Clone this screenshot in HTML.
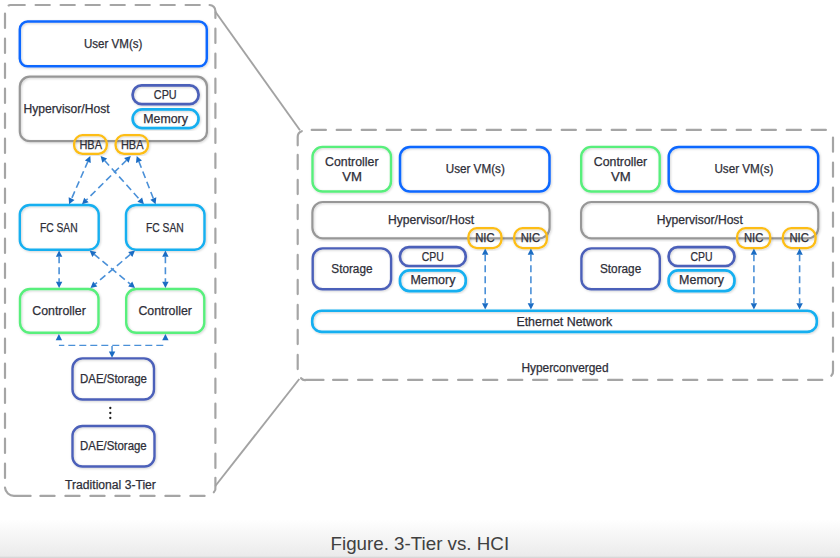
<!DOCTYPE html>
<html><head><meta charset="utf-8"><style>
html,body{margin:0;padding:0;}
body{width:840px;height:558px;overflow:hidden;position:relative;background:linear-gradient(to bottom,#ffffff 0px,#ffffff 519px,#ebebeb 556px,#d2d2d2 558px);}
svg{position:absolute;left:0;top:0;}
text{font-family:"Liberation Sans",sans-serif;fill:#2e2e38;stroke:#2e2e38;stroke-width:0.25px;}
</style></head><body>
<svg width="840" height="558" viewBox="0 0 840 558">
<defs><filter id="sh" x="-10%" y="-10%" width="120%" height="120%"><feDropShadow dx="0.8" dy="0.9" stdDeviation="0.9" flood-color="#000" flood-opacity="0.18"/></filter></defs>
<path d="M9.7,5 L201,5" fill="none" stroke="#a5a5a5" stroke-width="2.2" stroke-dasharray="14.2 10.8" stroke-dashoffset="-0.9" stroke-linecap="round"/>
<path d="M215.4,27.8 L215.4,468.8" fill="none" stroke="#a5a5a5" stroke-width="2.2" stroke-dasharray="14.2 10.8" stroke-dashoffset="-0.9" stroke-linecap="round"/>
<path d="M205.5,495.9 L39.5,495.9" fill="none" stroke="#a5a5a5" stroke-width="2.2" stroke-dasharray="14.2 10.8" stroke-dashoffset="-0.9" stroke-linecap="round"/>
<path d="M5,478.8 L5,12.8" fill="none" stroke="#a5a5a5" stroke-width="2.2" stroke-dasharray="14.2 10.8" stroke-dashoffset="-0.9" stroke-linecap="round"/>
<path d="M209.6,5 A6,6 0 0 1 215.4,11 L215.4,17.9" fill="none" stroke="#a5a5a5" stroke-width="2.2" stroke-linecap="round"/>
<path d="M215.4,477.8 L215.4,487 A6,6 0 0 1 213.8,492.3" fill="none" stroke="#a5a5a5" stroke-width="2.2" stroke-linecap="round"/>
<path d="M5,487.7 A9,9 0 0 0 14,495.9 L30.6,495.9" fill="none" stroke="#a5a5a5" stroke-width="2.2" stroke-linecap="round"/>
<path d="M10.2,5 A5,5 0 0 0 8.6,5.4" fill="none" stroke="#a5a5a5" stroke-width="2.2" stroke-linecap="round"/>
<path d="M310.8,129.9 L826.8,129.9" fill="none" stroke="#a5a5a5" stroke-width="2.2" stroke-dasharray="14.2 10.8" stroke-dashoffset="-0.9" stroke-linecap="round"/>
<path d="M833,136.6 L833,352.6" fill="none" stroke="#a5a5a5" stroke-width="2.2" stroke-dasharray="14.2 10.8" stroke-dashoffset="-0.9" stroke-linecap="round"/>
<path d="M823.2,379.9 L332.2,379.9" fill="none" stroke="#a5a5a5" stroke-width="2.2" stroke-dasharray="14.2 10.8" stroke-dashoffset="-0.9" stroke-linecap="round"/>
<path d="M297.7,370 L297.7,154" fill="none" stroke="#a5a5a5" stroke-width="2.2" stroke-dasharray="14.2 10.8" stroke-dashoffset="-0.9" stroke-linecap="round"/>
<path d="M301.8,131.2 A6,6 0 0 0 297.7,137 L297.7,145.3" fill="none" stroke="#a5a5a5" stroke-width="2.2" stroke-linecap="round"/>
<path d="M833,361.5 L833,371 A6,6 0 0 1 831.3,375.8" fill="none" stroke="#a5a5a5" stroke-width="2.2" stroke-linecap="round"/>
<path d="M301.1,378.2 A5,5 0 0 0 306,379.9 L323.5,379.9" fill="none" stroke="#a5a5a5" stroke-width="2.2" stroke-linecap="round"/>
<line x1="215.2" y1="11.5" x2="300" y2="130.2" stroke="#a3a3a3" stroke-width="1.9"/>
<line x1="215.3" y1="486" x2="299.3" y2="379" stroke="#a3a3a3" stroke-width="1.9"/>
<rect x="19.80" y="21.60" width="187.00" height="44.70" rx="7.8" fill="none" stroke="#1068ff" stroke-width="2.5" filter="url(#sh)"/>
<text x="113.15" y="48.00" font-size="12" text-anchor="middle" textLength="58.5" lengthAdjust="spacingAndGlyphs">User VM(s)</text>
<rect x="19.80" y="76.70" width="187.20" height="64.50" rx="10" fill="none" stroke="#979797" stroke-width="2.2" filter="url(#sh)"/>
<text x="66.60" y="113.00" font-size="12" text-anchor="middle" textLength="86.0" lengthAdjust="spacingAndGlyphs">Hypervisor/Host</text>
<rect x="132.65" y="85.35" width="65.90" height="18.80" rx="9" fill="none" stroke="#4c60b9" stroke-width="2.7" filter="url(#sh)"/>
<text x="165.25" y="99.00" font-size="12" text-anchor="middle" textLength="22.9" lengthAdjust="spacingAndGlyphs">CPU</text>
<rect x="132.65" y="109.35" width="65.90" height="18.80" rx="9.5" fill="none" stroke="#14aff0" stroke-width="2.7" filter="url(#sh)"/>
<text x="165.60" y="123.00" font-size="12" text-anchor="middle" textLength="44.6" lengthAdjust="spacingAndGlyphs">Memory</text>
<rect x="74.10" y="135.20" width="32.70" height="18.70" rx="8.5" fill="none" stroke="#fdbd12" stroke-width="2.3" filter="url(#sh)"/>
<text x="90.70" y="149.00" font-size="12" text-anchor="middle" textLength="22.6" lengthAdjust="spacingAndGlyphs">HBA</text>
<rect x="115.60" y="135.20" width="32.40" height="18.70" rx="8.5" fill="none" stroke="#fdbd12" stroke-width="2.3" filter="url(#sh)"/>
<text x="132.20" y="149.00" font-size="12" text-anchor="middle" textLength="22.6" lengthAdjust="spacingAndGlyphs">HBA</text>
<rect x="19.80" y="205.00" width="78.90" height="44.70" rx="10" fill="none" stroke="#14aff0" stroke-width="2.4" filter="url(#sh)"/>
<text x="58.80" y="232.00" font-size="12" text-anchor="middle" textLength="37.8" lengthAdjust="spacingAndGlyphs">FC SAN</text>
<rect x="126.00" y="205.00" width="78.50" height="44.70" rx="10" fill="none" stroke="#14aff0" stroke-width="2.4" filter="url(#sh)"/>
<text x="164.90" y="232.00" font-size="12" text-anchor="middle" textLength="37.8" lengthAdjust="spacingAndGlyphs">FC SAN</text>
<rect x="20.00" y="289.00" width="78.50" height="43.80" rx="10" fill="none" stroke="#58ef7c" stroke-width="2.4" filter="url(#sh)"/>
<text x="59.05" y="315.00" font-size="12" text-anchor="middle" textLength="53.5" lengthAdjust="spacingAndGlyphs">Controller</text>
<rect x="126.20" y="289.00" width="78.10" height="43.80" rx="10" fill="none" stroke="#58ef7c" stroke-width="2.4" filter="url(#sh)"/>
<text x="165.15" y="315.00" font-size="12" text-anchor="middle" textLength="53.5" lengthAdjust="spacingAndGlyphs">Controller</text>
<rect x="72.50" y="358.40" width="81.50" height="41.10" rx="10" fill="none" stroke="#4c60b9" stroke-width="2.4" filter="url(#sh)"/>
<text x="113.50" y="383.00" font-size="12" text-anchor="middle" textLength="66.8" lengthAdjust="spacingAndGlyphs">DAE/Storage</text>
<rect x="72.50" y="426.00" width="82.00" height="40.50" rx="10" fill="none" stroke="#4c60b9" stroke-width="2.4" filter="url(#sh)"/>
<text x="113.40" y="450.00" font-size="12" text-anchor="middle" textLength="66.6" lengthAdjust="spacingAndGlyphs">DAE/Storage</text>
<circle cx="110.3" cy="408" r="1.15" fill="#1e1e1e"/>
<circle cx="110.3" cy="413" r="1.15" fill="#1e1e1e"/>
<circle cx="110.3" cy="418" r="1.15" fill="#1e1e1e"/>
<text x="110.50" y="489.00" font-size="12" text-anchor="middle" textLength="90.8" lengthAdjust="spacingAndGlyphs">Traditional 3-Tier</text>
<polygon points="90.30,156.00 90.74,162.96 84.88,160.39" fill="#1b6cc3"/>
<polygon points="69.10,204.30 68.66,197.34 74.52,199.91" fill="#1b6cc3"/>
<line x1="88.01" y1="161.22" x2="71.39" y2="199.08" stroke="#4a90d8" stroke-width="1.6" stroke-dasharray="7 4"/>
<polygon points="130.80,156.00 128.64,162.64 124.14,158.09" fill="#1b6cc3"/>
<polygon points="82.00,204.30 84.16,197.66 88.66,202.21" fill="#1b6cc3"/>
<line x1="126.75" y1="160.01" x2="86.05" y2="200.29" stroke="#4a90d8" stroke-width="1.6" stroke-dasharray="7 4"/>
<polygon points="100.60,156.00 107.12,158.48 102.36,162.75" fill="#1b6cc3"/>
<polygon points="143.90,204.30 137.38,201.82 142.14,197.55" fill="#1b6cc3"/>
<line x1="104.40" y1="160.24" x2="140.10" y2="200.06" stroke="#4a90d8" stroke-width="1.6" stroke-dasharray="7 4"/>
<polygon points="136.70,156.00 141.94,160.61 135.98,162.94" fill="#1b6cc3"/>
<polygon points="155.60,204.30 150.36,199.69 156.32,197.36" fill="#1b6cc3"/>
<line x1="138.78" y1="161.31" x2="153.52" y2="198.99" stroke="#4a90d8" stroke-width="1.6" stroke-dasharray="7 4"/>
<polygon points="59.10,250.50 62.30,256.70 55.90,256.70" fill="#1b6cc3"/>
<polygon points="59.10,288.00 55.90,281.80 62.30,281.80" fill="#1b6cc3"/>
<line x1="59.10" y1="256.20" x2="59.10" y2="282.30" stroke="#4a90d8" stroke-width="1.6" stroke-dasharray="7 4"/>
<polygon points="165.40,250.50 168.60,256.70 162.20,256.70" fill="#1b6cc3"/>
<polygon points="165.40,288.00 162.20,281.80 168.60,281.80" fill="#1b6cc3"/>
<line x1="165.40" y1="256.20" x2="165.40" y2="282.30" stroke="#4a90d8" stroke-width="1.6" stroke-dasharray="7 4"/>
<polygon points="89.60,250.50 96.42,251.98 92.34,256.92" fill="#1b6cc3"/>
<polygon points="135.00,288.00 128.18,286.52 132.26,281.58" fill="#1b6cc3"/>
<line x1="93.99" y1="254.13" x2="130.61" y2="284.37" stroke="#4a90d8" stroke-width="1.6" stroke-dasharray="7 4"/>
<polygon points="135.00,250.50 132.32,256.94 128.20,252.05" fill="#1b6cc3"/>
<polygon points="90.50,288.00 93.18,281.56 97.30,286.45" fill="#1b6cc3"/>
<line x1="130.64" y1="254.17" x2="94.86" y2="284.33" stroke="#4a90d8" stroke-width="1.6" stroke-dasharray="7 4"/>
<polygon points="58.90,334.00 62.10,340.20 55.70,340.20" fill="#1b6cc3"/>
<polygon points="165.40,334.00 168.60,340.20 162.20,340.20" fill="#1b6cc3"/>
<line x1="58.9" y1="345.4" x2="165.4" y2="345.4" stroke="#4a90d8" stroke-width="1.4" stroke-dasharray="7 4" stroke-dashoffset="1.6"/>
<line x1="112.05" y1="346" x2="112.05" y2="352.5" stroke="#4a90d8" stroke-width="1.5"/>
<polygon points="112.05,357.70 108.85,351.50 115.25,351.50" fill="#1b6cc3"/>
<rect x="312.50" y="146.90" width="78.50" height="44.60" rx="10" fill="none" stroke="#58ef7c" stroke-width="2.4" filter="url(#sh)"/>
<text x="351.80" y="166.00" font-size="12" text-anchor="middle" textLength="53.4" lengthAdjust="spacingAndGlyphs">Controller</text>
<text x="352.15" y="181.00" font-size="12" text-anchor="middle" textLength="19.7" lengthAdjust="spacingAndGlyphs">VM</text>
<rect x="400.00" y="146.90" width="149.50" height="44.60" rx="10" fill="none" stroke="#1068ff" stroke-width="2.5" filter="url(#sh)"/>
<text x="475.25" y="173.00" font-size="12" text-anchor="middle" textLength="59.1" lengthAdjust="spacingAndGlyphs">User VM(s)</text>
<rect x="312.40" y="202.00" width="237.20" height="36.30" rx="10.5" fill="none" stroke="#979797" stroke-width="2.2" filter="url(#sh)"/>
<text x="431.05" y="224.00" font-size="12" text-anchor="middle" textLength="86.1" lengthAdjust="spacingAndGlyphs">Hypervisor/Host</text>
<rect x="312.70" y="248.40" width="78.40" height="40.90" rx="10" fill="none" stroke="#4c60b9" stroke-width="2.4" filter="url(#sh)"/>
<text x="351.90" y="273.00" font-size="12" text-anchor="middle" textLength="41.2" lengthAdjust="spacingAndGlyphs">Storage</text>
<rect x="399.95" y="247.05" width="65.80" height="18.95" rx="9" fill="none" stroke="#4c60b9" stroke-width="2.7" filter="url(#sh)"/>
<text x="432.85" y="261.00" font-size="12" text-anchor="middle" textLength="22.1" lengthAdjust="spacingAndGlyphs">CPU</text>
<rect x="399.95" y="270.30" width="65.80" height="20.75" rx="9.5" fill="none" stroke="#14aff0" stroke-width="2.7" filter="url(#sh)"/>
<text x="432.90" y="284.00" font-size="12" text-anchor="middle" textLength="45.0" lengthAdjust="spacingAndGlyphs">Memory</text>
<rect x="468.40" y="228.20" width="33.10" height="19.85" rx="8.5" fill="none" stroke="#fdbd12" stroke-width="2.3" filter="url(#sh)"/>
<text x="484.90" y="242.00" font-size="12" text-anchor="middle" textLength="19.4" lengthAdjust="spacingAndGlyphs">NIC</text>
<rect x="514.20" y="228.20" width="32.65" height="19.85" rx="8.5" fill="none" stroke="#fdbd12" stroke-width="2.3" filter="url(#sh)"/>
<text x="530.40" y="242.00" font-size="12" text-anchor="middle" textLength="19.4" lengthAdjust="spacingAndGlyphs">NIC</text>
<polygon points="485.20,248.50 488.40,254.70 482.00,254.70" fill="#1b6cc3"/>
<polygon points="485.20,309.50 482.00,303.30 488.40,303.30" fill="#1b6cc3"/>
<line x1="485.20" y1="254.20" x2="485.20" y2="303.80" stroke="#4a90d8" stroke-width="1.6" stroke-dasharray="7 4"/>
<polygon points="530.90,248.50 534.10,254.70 527.70,254.70" fill="#1b6cc3"/>
<polygon points="530.90,309.50 527.70,303.30 534.10,303.30" fill="#1b6cc3"/>
<line x1="530.90" y1="254.20" x2="530.90" y2="303.80" stroke="#4a90d8" stroke-width="1.6" stroke-dasharray="7 4"/>
<rect x="581.20" y="146.90" width="78.50" height="44.60" rx="10" fill="none" stroke="#58ef7c" stroke-width="2.4" filter="url(#sh)"/>
<text x="620.50" y="166.00" font-size="12" text-anchor="middle" textLength="53.4" lengthAdjust="spacingAndGlyphs">Controller</text>
<text x="620.85" y="181.00" font-size="12" text-anchor="middle" textLength="19.7" lengthAdjust="spacingAndGlyphs">VM</text>
<rect x="668.70" y="146.90" width="149.50" height="44.60" rx="10" fill="none" stroke="#1068ff" stroke-width="2.5" filter="url(#sh)"/>
<text x="743.95" y="173.00" font-size="12" text-anchor="middle" textLength="59.1" lengthAdjust="spacingAndGlyphs">User VM(s)</text>
<rect x="581.10" y="202.00" width="237.20" height="36.30" rx="10.5" fill="none" stroke="#979797" stroke-width="2.2" filter="url(#sh)"/>
<text x="699.75" y="224.00" font-size="12" text-anchor="middle" textLength="86.1" lengthAdjust="spacingAndGlyphs">Hypervisor/Host</text>
<rect x="581.40" y="248.40" width="78.40" height="40.90" rx="10" fill="none" stroke="#4c60b9" stroke-width="2.4" filter="url(#sh)"/>
<text x="620.60" y="273.00" font-size="12" text-anchor="middle" textLength="41.2" lengthAdjust="spacingAndGlyphs">Storage</text>
<rect x="668.65" y="247.05" width="65.80" height="18.95" rx="9" fill="none" stroke="#4c60b9" stroke-width="2.7" filter="url(#sh)"/>
<text x="701.55" y="261.00" font-size="12" text-anchor="middle" textLength="22.1" lengthAdjust="spacingAndGlyphs">CPU</text>
<rect x="668.65" y="270.30" width="65.80" height="20.75" rx="9.5" fill="none" stroke="#14aff0" stroke-width="2.7" filter="url(#sh)"/>
<text x="701.60" y="284.00" font-size="12" text-anchor="middle" textLength="45.0" lengthAdjust="spacingAndGlyphs">Memory</text>
<rect x="737.10" y="228.20" width="33.10" height="19.85" rx="8.5" fill="none" stroke="#fdbd12" stroke-width="2.3" filter="url(#sh)"/>
<text x="753.60" y="242.00" font-size="12" text-anchor="middle" textLength="19.4" lengthAdjust="spacingAndGlyphs">NIC</text>
<rect x="782.90" y="228.20" width="32.65" height="19.85" rx="8.5" fill="none" stroke="#fdbd12" stroke-width="2.3" filter="url(#sh)"/>
<text x="799.10" y="242.00" font-size="12" text-anchor="middle" textLength="19.4" lengthAdjust="spacingAndGlyphs">NIC</text>
<polygon points="753.90,248.50 757.10,254.70 750.70,254.70" fill="#1b6cc3"/>
<polygon points="753.90,309.50 750.70,303.30 757.10,303.30" fill="#1b6cc3"/>
<line x1="753.90" y1="254.20" x2="753.90" y2="303.80" stroke="#4a90d8" stroke-width="1.6" stroke-dasharray="7 4"/>
<polygon points="799.60,248.50 802.80,254.70 796.40,254.70" fill="#1b6cc3"/>
<polygon points="799.60,309.50 796.40,303.30 802.80,303.30" fill="#1b6cc3"/>
<line x1="799.60" y1="254.20" x2="799.60" y2="303.80" stroke="#4a90d8" stroke-width="1.6" stroke-dasharray="7 4"/>
<rect x="312.20" y="310.75" width="504.60" height="21.15" rx="9.5" fill="none" stroke="#14aff0" stroke-width="2.6" filter="url(#sh)"/>
<text x="564.35" y="326.00" font-size="12" text-anchor="middle" textLength="95.9" lengthAdjust="spacingAndGlyphs">Ethernet Network</text>
<text x="565.00" y="372.00" font-size="12" text-anchor="middle" textLength="87.2" lengthAdjust="spacingAndGlyphs">Hyperconverged</text>
<text x="419.8" y="549.6" font-size="18.5" text-anchor="middle" textLength="178.6" lengthAdjust="spacingAndGlyphs" style="fill:#404040;stroke:none">Figure. 3-Tier vs. HCI</text>
</svg>
</body></html>
